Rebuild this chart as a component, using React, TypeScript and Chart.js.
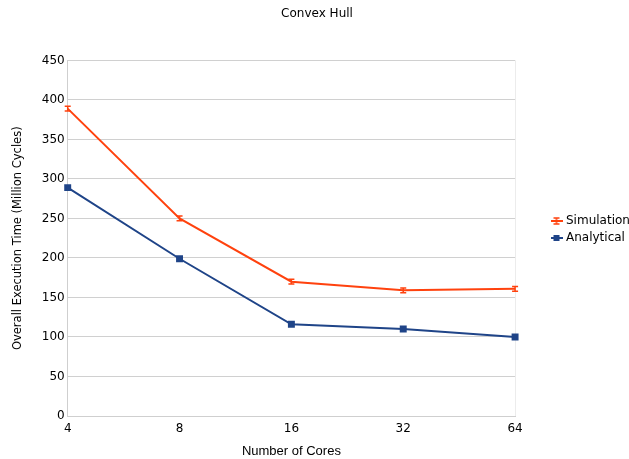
import React, { useEffect, useRef } from "react";
import { Chart, registerables } from "chart.js";

Chart.register(...registerables);

const categories = ["4", "8", "16", "32", "64"];
const simulation = [389, 250, 170, 159, 161];
const simulationErr = [3, 3, 3, 3, 3];
const analytical = [289, 199, 116, 110, 100];
const yTicks = [0, 50, 100, 150, 200, 250, 300, 350, 400, 450];

const ORANGE = "#ff420e";
const BLUE = "#1f4488";
const FONT = "'DejaVu Sans', sans-serif";
const FONT2 = "'Liberation Sans', Arial, sans-serif";

function makeIcon(kind: "err" | "square", color: string) {
  const c = document.createElement("canvas");
  c.width = 12;
  c.height = 10;
  const g = c.getContext("2d")!;
  g.strokeStyle = color;
  g.fillStyle = color;
  g.lineWidth = 2;
  g.beginPath();
  g.moveTo(0, 5);
  g.lineTo(12, 5);
  g.stroke();
  if (kind === "square") {
    g.fillRect(3, 2, 6, 6);
  } else {
    g.lineWidth = 1.5;
    g.beginPath();
    g.moveTo(6, 2);
    g.lineTo(6, 8);
    g.moveTo(3, 2);
    g.lineTo(9, 2);
    g.moveTo(3, 8);
    g.lineTo(9, 8);
    g.stroke();
  }
  return c;
}

const errorBarPlugin = {
  id: "errorBars",
  afterDatasetsDraw(chart: any) {
    const meta = chart.getDatasetMeta(0);
    const y = chart.scales.y;
    const ctx = chart.ctx;
    ctx.save();
    ctx.strokeStyle = ORANGE;
    ctx.lineWidth = 1.5;
    meta.data.forEach((pt: any, i: number) => {
      const v = simulation[i];
      const e = simulationErr[i];
      const yt = y.getPixelForValue(v + e);
      const yb = y.getPixelForValue(v - e);
      const x = pt.x;
      ctx.beginPath();
      ctx.moveTo(x, yt);
      ctx.lineTo(x, yb);
      ctx.moveTo(x - 3, yt);
      ctx.lineTo(x + 3, yt);
      ctx.moveTo(x - 3, yb);
      ctx.lineTo(x + 3, yb);
      ctx.stroke();
    });
    ctx.restore();
  },
};

const layoutShiftPlugin = {
  id: "layoutShift",
  afterLayout(chart: any) {
    const lg = chart.legend;
    if (lg) {
      const dx = 548 - lg.left;
      lg.left += dx;
      lg.right += dx;
    }
    const tb = chart.titleBlock;
    if (tb) {
      tb.left += 8;
      tb.right += 8;
    }
  },
};

export default function App() {
  const ref = useRef<HTMLCanvasElement>(null);
  useEffect(() => {
    document.body.style.margin = "0";
    const icons = [makeIcon("err", ORANGE), makeIcon("square", BLUE)];
    const chart = new Chart(ref.current!, {
      type: "line",
      data: {
        labels: categories,
        datasets: [
          {
            label: "Simulation",
            data: simulation,
            borderColor: ORANGE,
            backgroundColor: ORANGE,
            borderWidth: 2,
            pointRadius: 0,
            tension: 0,
          },
          {
            label: "Analytical",
            data: analytical,
            borderColor: BLUE,
            backgroundColor: BLUE,
            borderWidth: 2,
            pointStyle: "rect",
            pointRadius: 3.5,
            tension: 0,
          },
        ],
      },
      options: {
        animation: false,
        responsive: false,
        layout: { padding: { left: 11, right: 22, top: 0, bottom: 0 } },
        plugins: {
          title: {
            display: true,
            text: "Convex Hull",
            color: "#000",
            font: { family: FONT, size: 12, weight: "normal" },
            padding: { top: 7, bottom: 39 },
          },
          legend: {
            position: "right",
            labels: {
              color: "#000",
              font: { family: FONT, size: 12 },
              usePointStyle: true,
              pointStyleWidth: 7,
              boxHeight: 10,
              padding: 5,
              generateLabels: (ch: any) =>
                ch.data.datasets.map((d: any, i: number) => ({
                  text: d.label,
                  pointStyle: icons[i],
                  fillStyle: d.borderColor,
                  strokeStyle: d.borderColor,
                  lineWidth: 0,
                  fontColor: "#000",
                  datasetIndex: i,
                  hidden: false,
                })),
            },
          },
          tooltip: { enabled: false },
        },
        scales: {
          x: {
            type: "category",
            offset: false,
            grid: {
              display: true,
              drawTicks: false,
              color: (c: any) => (c.index === categories.length - 1 ? "#ececec" : "rgba(0,0,0,0)"),
            },
            border: { color: "#cfcfcf" },
            ticks: { color: "#000", font: { family: FONT, size: 12 }, padding: 6, maxRotation: 0 },
            title: {
              display: true,
              text: "Number of Cores",
              color: "#000",
              font: { family: FONT2, size: 13 },
              padding: { top: 1, bottom: 0 },
            },
          },
          y: {
            min: 0,
            max: 450,
            afterBuildTicks: (s: any) => {
              s.ticks = yTicks.map((v) => ({ value: v }));
            },
            grid: { color: "#d0d0d0", drawTicks: false },
            border: { color: "#cfcfcf" },
            ticks: { color: "#000", font: { family: FONT, size: 12 }, padding: 3 },
            title: {
              display: true,
              text: "Overall Execution Time (Million Cycles)",
              color: "#000",
              font: { family: FONT, size: 11.5 },
              padding: { top: 0, bottom: 14 },
            },
          },
        },
      },
      plugins: [errorBarPlugin, layoutShiftPlugin],
    });
    return () => chart.destroy();
  }, []);
  return (
    <div style={{ width: 629, height: 459, background: "#fff" }}>
      <canvas ref={ref} width={629} height={459} />
    </div>
  );
}
